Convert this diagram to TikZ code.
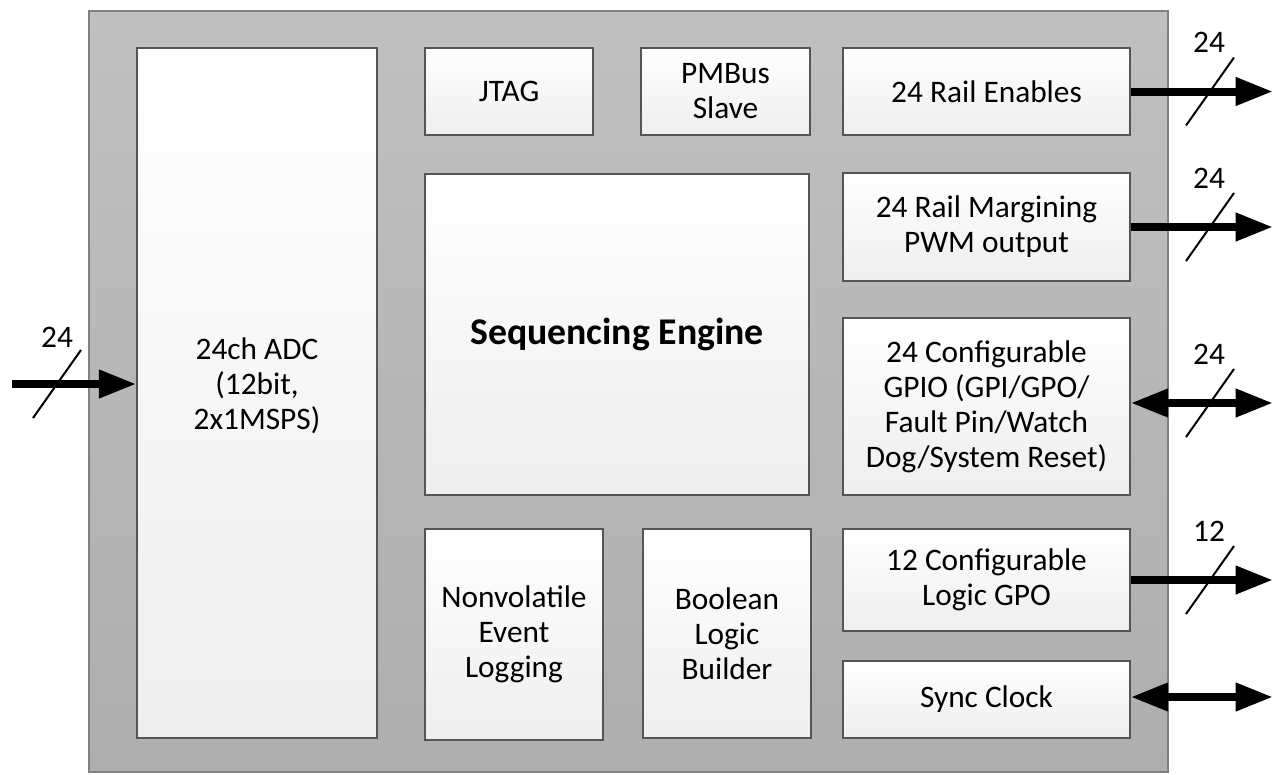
\documentclass[tikz,border=0pt]{standalone}
\usepackage{fontspec}
\setmainfont{Carlito}
\usetikzlibrary{arrows.meta,calc}
\definecolor{outerTop}{HTML}{C0C0C0}
\definecolor{outerBot}{HTML}{AEAEAE}
\definecolor{boxBot}{HTML}{EEEEEE}
\definecolor{boxLine}{HTML}{555555}
\definecolor{outerLine}{HTML}{808080}
\begin{document}
\begin{tikzpicture}[x=0.75pt,y=-0.75pt,
  outerbox/.style={draw=outerLine, line width=1.5pt, top color=outerTop, bottom color=outerBot, inner sep=0pt},
  blockbox/.style={draw=boxLine, line width=1.1pt, top color=white, bottom color=boxBot, inner sep=0pt,
     align=center, font=\fontsize{23.5}{26.25}\selectfont},
  sz/.style 2 args={minimum width=#1*0.75pt, minimum height=#2*0.75pt},
  bus/.style={line width=6pt, -{Triangle[length=28pt,width=20pt]}},
  bibus/.style={line width=6pt, {Triangle[length=28pt,width=20pt]}-{Triangle[length=28pt,width=20pt]}},
  slashline/.style={line width=1.5pt},
  buslabel/.style={font=\fontsize{23.5}{26.25}\selectfont, inner sep=0pt}
]
\useasboundingbox (0,0) rectangle (1273,774);
\node[outerbox, sz={1079}{761}] (chip) at (628.5,391.5) {};

\node[blockbox, sz={240}{690}] (adc) at (257,393) {};
\node[font=\fontsize{23.5}{26.25}\selectfont, align=center] (adctext) at (257,386) {24ch ADC\\(12bit,\\2x1MSPS)};
\node[blockbox, sz={168}{87}] (jtag) at (509,91.5) {JTAG};
\node[blockbox, sz={169}{87}] (pmbus) at (725.5,91.5) {PMBus\\Slave};
\node[blockbox, sz={287}{87}] (en) at (986.5,91.5) {24 Rail Enables};
\node[blockbox, sz={384}{321}, font=\fontsize{28.3}{34}\selectfont\bfseries] (seq) at (617,334.5) {Sequencing Engine};
\node[blockbox, sz={287}{108}] (marg) at (986.5,227) {24 Rail Margining\\PWM output};
\node[blockbox, sz={287}{177}] (gpio) at (986.5,406.5) {24 Configurable\\GPIO (GPI/GPO/\\Fault Pin/Watch\\Dog/System Reset)};
\node[blockbox, sz={178}{211}] (nvlog) at (514,634.5) {Nonvolatile\\Event\\Logging};
\node[blockbox, sz={168}{209}] (bool) at (727,633.5) {Boolean\\Logic\\Builder};
\node[blockbox, sz={287}{102}] (gpo) at (986.5,580) {12 Configurable\\Logic GPO};
\node[blockbox, sz={287}{77}] (sync) at (986.5,699.5) {Sync Clock};

% left input bus
\coordinate (inL) at (12,384);
\draw[bus] (inL) -- (adc.west |- inL);
\coordinate (sL) at (57,384);
\draw[slashline] ($(sL)+(-24,34)$) -- ($(sL)+(24,-34)$);
\node[buslabel] (lblL) at (57,337) {24};

% right buses
\coordinate (outEn) at (1273,91.5);
\draw[bus] (en.east) -- (outEn);
\coordinate (outMarg) at (1273,227);
\draw[bus] (marg.east) -- (outMarg);
\coordinate (outGpio) at (1273,403);
\draw[bibus] (gpio.east |- outGpio) -- (outGpio);
\coordinate (outGpo) at (1273,580);
\draw[bus] (gpo.east) -- (outGpo);
\coordinate (outSync) at (1273,697);
\draw[bibus] (sync.east |- outSync) -- (outSync);

% slashes and labels
\foreach \c/\y/\t in {en/91.5/24, marg/227/24, gpio/403/24, gpo/580/12}{
  \coordinate (s\c) at (1210,\y);
  \draw[slashline] ($(s\c)+(-24,34)$) -- ($(s\c)+(24,-34)$);
  \node[buslabel] (lbl\c) at ($(s\c)+(-1,-49)$) {\t};
}
\end{tikzpicture}
\end{document}
